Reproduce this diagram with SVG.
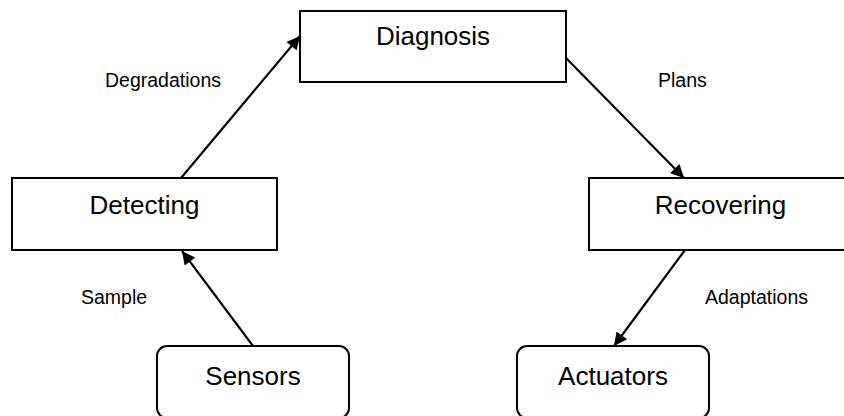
<svg xmlns="http://www.w3.org/2000/svg" width="844" height="416" viewBox="0 0 844 416">
  <style>
    .box { fill: #fff; stroke: #000; stroke-width: 2; }
    .node-text { font-family: "Liberation Sans", Arial, sans-serif; font-size: 26px; fill: #000; text-anchor: middle; }
    .label { font-family: "Liberation Sans", Arial, sans-serif; font-size: 19.5px; fill: #000; }
    .edge { stroke: #000; stroke-width: 2.2; fill: none; marker-end: url(#arrow); }
  </style>
  <defs>
    <marker id="arrow" viewBox="0 0 10 10" refX="10" refY="5" markerWidth="7" markerHeight="6" markerUnits="strokeWidth" orient="auto">
      <path d="M0,0 L10,5 L0,10 z" fill="#000"/>
    </marker>
  </defs>
  <rect width="844" height="416" fill="#fff"/>

  <g id="diagnosis">
    <rect class="box" x="300" y="11" width="266" height="71"/>
    <text class="node-text" x="433" y="45">Diagnosis</text>
  </g>
  <g id="detecting">
    <rect class="box" x="12" y="178" width="265" height="72"/>
    <text class="node-text" x="144.5" y="214">Detecting</text>
  </g>
  <g id="recovering">
    <rect class="box" x="589" y="178" width="264" height="72"/>
    <text class="node-text" x="720.5" y="214">Recovering</text>
  </g>
  <g id="sensors">
    <rect class="box" x="157" y="346" width="192" height="72" rx="10" ry="10"/>
    <text class="node-text" x="253" y="385">Sensors</text>
  </g>
  <g id="actuators">
    <rect class="box" x="517" y="346" width="192" height="72" rx="10" ry="10"/>
    <text class="node-text" x="613" y="385">Actuators</text>
  </g>

  <g id="connectors">
    <line class="edge" x1="181" y1="178" x2="300" y2="36"/>
    <line class="edge" x1="566" y1="58" x2="684" y2="178"/>
    <line class="edge" x1="253" y1="346" x2="182" y2="251"/>
    <line class="edge" x1="685" y1="250" x2="614" y2="346"/>
    <text class="label" x="105" y="87">Degradations</text>
    <text class="label" x="658" y="87">Plans</text>
    <text class="label" x="81" y="304">Sample</text>
    <text class="label" x="705" y="304">Adaptations</text>
  </g>
</svg>
